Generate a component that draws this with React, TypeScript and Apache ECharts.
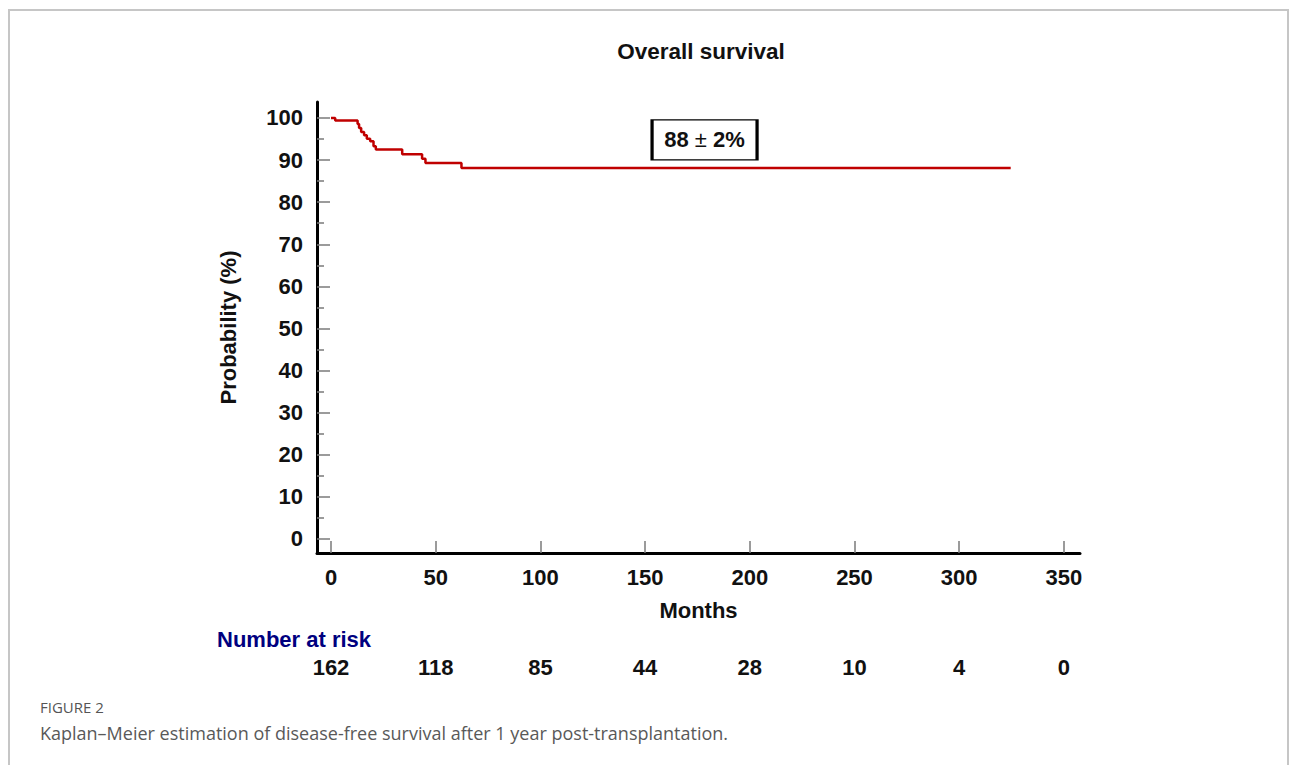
import React, { useEffect, useRef } from "react";
import * as echarts from "echarts";

// Kaplan–Meier curve (months, survival %)
const months = [0, 2, 12.7, 13.4, 14.4, 15.8, 17.1, 18.7, 20.3, 21.4, 34, 43.5, 45.1, 62.3, 324.6];
const survival = [100, 99.4, 98.6, 97.6, 96.7, 95.9, 95.1, 94.5, 93.3, 92.5, 91.4, 90.3, 89.3, 88.1, 88.1];

const xTicks = [0, 50, 100, 150, 200, 250, 300, 350];
const atRisk = [162, 118, 85, 44, 28, 10, 4, 0];
const yTicks = [0, 10, 20, 30, 40, 50, 60, 70, 80, 90, 100];
const yMinorTicks = [5, 15, 25, 35, 45, 55, 65, 75, 85, 95];

const annotation = { month: 178.4, value: 94.8, main: "88", pm: "±", rest: "2%" };

const FONT = "'Liberation Sans', Arial, sans-serif";
const CAPTION_FONT = "'Open Sans', 'Noto Sans', sans-serif";

export default function App() {
  const ref = useRef<HTMLDivElement>(null);

  useEffect(() => {
    if (!ref.current) return;
    const chart = echarts.init(ref.current, undefined, { renderer: "svg" });
    const data = months.map((m, i) => [m, survival[i]]);
    const boldText = { fontFamily: FONT, fontWeight: "bold" as const, fontSize: 22, color: "#111" };

    chart.setOption({
      animation: false,
      backgroundColor: "#fff",
      grid: { left: 317, top: 102, width: 763, height: 451, containLabel: false },
      xAxis: [
        {
          type: "value",
          min: -6.69,
          max: 357.7,
          splitLine: { show: false },
          axisLine: { show: true, onZero: false, lineStyle: { color: "#000", width: 3 } },
          axisTick: { show: true, inside: true, length: 12, customValues: xTicks, lineStyle: { color: "#7a7a7a", width: 1.5 } },
          axisLabel: { show: true, customValues: xTicks, margin: 13, ...boldText },
          name: "Months",
          nameLocation: "middle",
          nameGap: 46,
          nameTextStyle: boldText,
        },
        {
          type: "value",
          min: -6.69,
          max: 357.7,
          position: "bottom",
          offset: 90,
          splitLine: { show: false },
          axisLine: { show: false, onZero: false },
          axisTick: { show: false },
          axisLabel: {
            show: true,
            customValues: xTicks,
            margin: 13,
            ...boldText,
            formatter: (v: number) => {
              const idx = xTicks.indexOf(Math.round(v));
              return idx >= 0 ? String(atRisk[idx]) : "";
            },
          },
        },
      ],
      yAxis: [
        {
          type: "value",
          position: "left",
          min: -3.33,
          max: 103.8,
          splitLine: { show: false },
          axisLine: { show: true, onZero: false, lineStyle: { color: "#000", width: 3 } },
          axisTick: { show: true, inside: true, length: 13, customValues: yTicks, lineStyle: { color: "#7a7a7a", width: 1.5 } },
          axisLabel: { show: true, customValues: yTicks, margin: 14, ...boldText },
          name: "Probability (%)",
          nameLocation: "middle",
          nameRotate: 90,
          nameGap: 78,
          nameTextStyle: boldText,
        },
        {
          type: "value",
          position: "left",
          offset: 0,
          min: -3.33,
          max: 103.8,
          splitLine: { show: false },
          axisLine: { show: false, onZero: false },
          axisTick: { show: true, inside: true, length: 7, customValues: yMinorTicks, lineStyle: { color: "#7a7a7a", width: 1.5 } },
          axisLabel: { show: false },
        },
      ],
      series: [
        {
          type: "line",
          data,
          step: "end",
          symbol: "none",
          lineStyle: { color: "#c00000", width: 2.5 },
          markPoint: {
            symbol: "rect",
            symbolSize: [105, 40],
            itemStyle: { color: "#fff", borderColor: "#000", borderWidth: 2 },
            label: {
              show: true,
              position: "inside",
              formatter: `{a|${annotation.main} }{b|${annotation.pm}}{a| ${annotation.rest}}`,
              rich: {
                a: { ...boldText },
                b: { fontFamily: FONT, fontWeight: "normal", fontSize: 22, color: "#111" },
              },
            },
            data: [{ coord: [annotation.month, annotation.value] }],
          },
        },
      ],
      graphic: [
        {
          type: "rect",
          shape: { x: 9, y: 10, width: 1279, height: 820 },
          style: { fill: "none", stroke: "#c6c6c6", lineWidth: 2 },
          silent: true,
        },
        {
          type: "text",
          x: 701,
          y: 51,
          style: { text: "Overall survival", fill: "#111", font: `bold 22.5px ${FONT}`, textAlign: "center", textVerticalAlign: "middle" },
        },
        {
          type: "text",
          x: 217,
          y: 639,
          style: { text: "Number at risk", fill: "#00007f", font: `bold 22px ${FONT}`, textAlign: "left", textVerticalAlign: "middle" },
        },
        {
          type: "text",
          x: 40,
          y: 707,
          style: { text: "FIGURE 2", fill: "#555", font: `15px ${CAPTION_FONT}`, textAlign: "left", textVerticalAlign: "middle" },
        },
        {
          type: "text",
          x: 40,
          y: 733,
          style: {
            text: "Kaplan–Meier estimation of disease-free survival after 1 year post-transplantation.",
            fill: "#595959",
            font: `18px ${CAPTION_FONT}`,
            textAlign: "left",
            textVerticalAlign: "middle",
          },
        },
      ],
    });

    return () => chart.dispose();
  }, []);

  return <div ref={ref} style={{ position: "absolute", left: 0, top: 0, width: 1293, height: 765 }} />;
}
